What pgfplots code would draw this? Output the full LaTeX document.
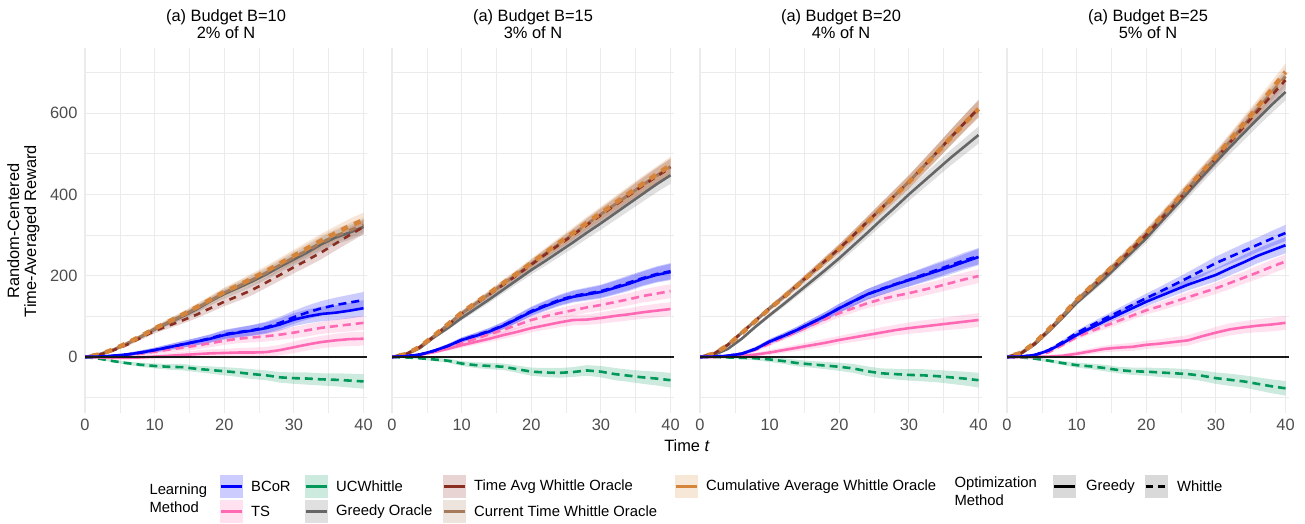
\documentclass[border=0pt]{standalone}
\usepackage{fontspec}
\setmainfont{Liberation Sans}
\usepackage{pgfplots}
\usepackage{pgfplotstable}
\pgfplotsset{compat=1.18}
\usepgfplotslibrary{fillbetween}

\definecolor{bcor}{HTML}{0000FF}
\definecolor{tsc}{HTML}{FF69B4}
\definecolor{ucw}{HTML}{00995A}
\definecolor{gor}{HTML}{666666}
\definecolor{tao}{HTML}{8B2E22}
\definecolor{cto}{HTML}{A67B5B}
\definecolor{cao}{HTML}{D6843A}
\definecolor{gridc}{HTML}{EBEBEB}
\definecolor{tickc}{HTML}{4D4D4D}
\definecolor{keyg}{HTML}{D9D9D9}

\newcommand{\tfont}{\fontsize{16.4bp}{17bp}\selectfont}
\newcommand{\lfont}{\fontsize{14.8bp}{18bp}\selectfont}

% t go ct ta ca bg bw tg tw uc eo eb et eu
\pgfplotstableread{
t go ct ta ca bg bw tg tw uc eo eb et eu
0 0 0 0 0 0 0 0 0 0 0 0 0 0
2 6 6 5 6 1 1 -1 1 -4 2 2 2 2
4 17 17 16 18 3 3 -2 2 -10 3 3 3 3
6 32 33 30 34 6 6 -2 4 -15 4 4 4 4
8 49 50 47 51 11 11 -1 8 -19 5 5 5 5
10 68 69 64 70 17 17 1 13 -22 6 6 6 6
12 84 86 77 87 24 24 3 18 -24 7 7 7 7
14 100 102 90 104 31 31 5 23 -25 8 8 8 8
16 117 120 104 122 38 38 7 28 -29 9 9 9 8
18 137 139 120 141 45 46 9 34 -32 10 10 10 9
20 155 158 136 160 54 56 10 40 -35 11 11 10 10
22 170 174 150 176 60 61 11 45 -38 12 12 11 11
24 186 190 165 193 65 66 11 48 -42 13 13 12 12
26 203 207 183 211 71 73 12 51 -45 13 14 13 12
28 222 226 202 230 80 84 17 55 -50 14 15 13 13
30 240 245 221 249 92 98 24 60 -52 15 16 14 14
32 258 263 239 268 100 110 31 66 -53 16 17 15 15
34 278 282 258 287 106 120 37 72 -55 17 18 15 15
36 294 298 279 305 109 128 41 76 -56 17 18 16 16
38 306 311 300 322 114 134 44 80 -58 18 19 17 17
40 320 325 320 337 120 140 45 84 -60 18 20 17 18
}\tA

\pgfplotstableread{
t go ct ta ca bg bw tg tw uc eo eb et eu
0 0 0 0 0 0 0 0 0 0 0 0 0 0
2 6 7 7 7 2 2 2 2 -1 2 2 2 2
4 22 25 24 25 6 6 5 6 -3 3 3 3 3
6 48 51 50 52 15 15 12 13 -6 4 4 4 4
8 71 79 78 80 27 27 20 23 -9 5 5 5 5
10 96 107 106 109 42 42 29 34 -16 6 6 6 6
12 119 131 130 133 52 53 37 45 -20 7 7 7 7
14 142 155 154 157 63 64 45 56 -22 8 8 8 8
16 166 180 178 182 77 78 54 67 -24 9 9 9 8
18 190 204 202 206 94 95 62 79 -30 10 10 10 9
20 214 229 227 231 111 113 71 91 -36 11 11 10 10
22 236 254 252 256 125 127 78 100 -38 12 12 11 11
24 259 278 276 281 138 140 85 108 -39 13 13 12 12
26 282 302 300 305 148 150 91 115 -37 14 14 13 12
28 306 327 325 330 154 156 92 122 -33 15 15 13 13
30 329 351 349 354 160 162 96 128 -36 16 16 14 14
32 353 375 373 378 170 172 101 135 -42 17 17 15 15
34 377 399 397 402 180 183 105 142 -46 18 18 15 15
36 401 423 421 426 192 194 110 150 -50 19 18 16 16
38 425 446 444 449 202 204 114 156 -53 20 19 17 17
40 447 468 466 472 209 211 118 162 -57 21 20 17 18
}\tB

\pgfplotstableread{
t go ct ta ca bg bw tg tw uc eo eb et eu
0 0 0 0 0 0 0 0 0 0 0 0 0 0
2 5 8 8 8 1 1 0 1 0 2 2 2 2
4 20 30 30 29 3 3 1 3 -1 3 3 3 3
6 45 60 60 59 8 8 3 8 -2 4 4 4 4
8 75 90 90 89 20 20 6 18 -3 5 5 5 5
10 103 120 120 119 38 38 11 33 -6 6 6 6 6
12 130 148 148 147 52 52 17 48 -10 7 7 7 7
14 158 177 177 176 67 67 23 63 -15 8 8 8 8
16 186 207 207 206 84 84 29 78 -18 9 9 9 8
18 214 237 237 236 101 101 35 93 -21 10 10 10 9
20 243 267 267 266 120 120 42 108 -24 11 11 10 10
22 274 299 299 298 137 137 48 120 -28 12 12 11 11
24 305 332 332 331 154 154 54 132 -35 13 13 12 12
26 337 365 365 364 166 167 60 142 -40 14 14 13 12
28 368 398 398 397 178 179 66 150 -42 15 15 13 13
30 400 431 431 430 189 190 71 157 -44 16 16 14 14
32 430 467 467 466 200 202 75 165 -45 17 17 15 15
34 460 503 503 502 211 214 79 173 -47 18 18 15 15
36 490 540 540 539 222 226 83 182 -50 19 18 16 16
38 518 576 576 575 234 238 87 191 -53 20 19 17 17
40 546 610 612 610 246 248 91 199 -57 21 20 17 18
}\tC

\pgfplotstableread{
t go ct ta ca bg bw tg tw uc eo eb et eu
0 0 0 0 0 0 0 0 0 0 0 0 0 0
2 8 10 9 10 1 1 0 0 -1 2 2 2 2
4 31 34 33 35 5 5 0 3 -4 3 3 3 3
6 63 67 66 68 16 17 1 12 -9 4 4 4 4
8 97 102 100 103 34 37 3 30 -15 5 5 5 5
10 133 139 136 140 54 59 8 49 -20 6 6 6 6
12 163 171 168 172 71 77 14 63 -23 7 7 7 7
14 193 203 200 204 88 94 20 76 -27 8 8 8 8
16 226 235 232 236 104 111 23 89 -32 9 9 9 8
18 259 268 266 270 120 128 25 102 -35 10 10 10 9
20 292 303 300 305 136 145 30 115 -36 11 11 10 10
22 330 340 337 342 150 161 33 125 -38 12 12 11 11
24 367 377 374 379 164 178 37 136 -40 13 13 12 12
26 405 415 412 417 178 195 41 147 -42 14 14 13 12
28 443 453 450 455 190 213 51 158 -46 15 15 13 13
30 480 490 488 492 202 231 60 169 -52 16 16 14 14
32 516 530 527 533 218 246 68 182 -56 17 17 15 15
34 551 570 566 574 233 261 73 195 -60 18 18 15 15
36 586 610 605 615 249 276 77 208 -66 19 18 16 16
38 620 650 643 658 262 291 80 222 -72 20 19 17 17
40 652 690 681 701 275 305 84 235 -77 21 20 17 18
}\tD

\newcommand{\band}[4]{%
 \addplot[draw=none, forget plot, name path=#2U] table[x=t, y expr=\thisrow{#2}+\thisrow{#3}] {#1};
 \addplot[draw=none, forget plot, name path=#2L] table[x=t, y expr=\thisrow{#2}-\thisrow{#3}] {#1};
 \addplot[fill=#4, fill opacity=0.2, draw=none, forget plot] fill between[of=#2U and #2L];
}
\newcommand{\curve}[3]{\addplot[#3, forget plot] table[x=t, y=#2] {#1};}

\pgfplotsset{
 solidln/.style={line width=2.6bp, line cap=butt},
 dashln/.style={line width=2.6bp, dash pattern=on 8bp off 5bp},
 panel/.style={
  scale only axis, width=282bp, height=365bp,
  anchor=south west,
  xmin=0, xmax=40.5, ymin=-137.7, ymax=760,
  xtick={0,10,20,30,40}, minor xtick={5,15,25,35},
  ytick={0,200,400,600}, minor ytick={-100,100,300,500,700},
  grid=both,
  major grid style={draw=gridc, line width=1.1bp},
  minor grid style={draw=gridc, line width=0.55bp},
  axis line style={draw=none},
  tick style={draw=none},
  major tick length=0pt, minor tick length=0pt,
  tick label style={font=\tfont, text=tickc},
  /pgf/number format/assume math mode=true,
  xticklabel style={yshift=-3bp},
  yticklabel style={xshift=-4bp},
 }
}

\newcommand{\drawpanel}[3]{%
\begin{axis}[panel, at={(#2bp,-413bp)}, #3]
 \band{#1}{uc}{eu}{ucw}
 \band{#1}{go}{eo}{gor}
 \band{#1}{ct}{eo}{cto}
 \band{#1}{ta}{eo}{tao}
 \band{#1}{ca}{eo}{cao}
 \band{#1}{tg}{et}{tsc}
 \band{#1}{tw}{et}{tsc}
 \band{#1}{bg}{eb}{bcor}
 \band{#1}{bw}{eb}{bcor}
 \curve{#1}{go}{gor, solidln}
 \curve{#1}{ct}{cto, line width=3bp, dash pattern=on 7bp off 7bp}
 \curve{#1}{ta}{tao, line width=2.6bp, dash pattern=on 7bp off 6bp}
 \curve{#1}{ca}{cao, line width=4.5bp, dash pattern=on 7bp off 7bp, dash phase=7bp}
 \curve{#1}{uc}{ucw, dashln}
 \curve{#1}{tg}{tsc, solidln}
 \curve{#1}{tw}{tsc, dashln}
 \curve{#1}{bg}{bcor, solidln}
 \curve{#1}{bw}{bcor, dashln}
 \addplot[black!90, line width=1.8bp, forget plot] coordinates {(0,0) (40.5,0)};
\end{axis}}

\newcommand{\lkey}[4]{%
 \fill[#3!20] (#1bp,-#2bp+11.5bp) rectangle (#1bp+23bp,-#2bp-11.5bp);
 \draw[#3, line width=2.8bp] (#1bp+1bp,-#2bp) -- (#1bp+22bp,-#2bp);
 \node[font=\lfont, anchor=west, inner sep=0pt] at (#1bp+31bp,-#2bp) {#4};}

\begin{document}
\begin{tikzpicture}

\drawpanel{\tA}{85}{}
\drawpanel{\tB}{392}{yticklabels={}}
\drawpanel{\tC}{700}{yticklabels={}}
\drawpanel{\tD}{1007}{yticklabels={}}

% panel titles
\node[font=\tfont, align=center] at (226bp,-24.5bp) {(a) Budget B=10\\2\% of N};
\node[font=\tfont, align=center] at (533bp,-24.5bp) {(a) Budget B=15\\3\% of N};
\node[font=\tfont, align=center] at (841bp,-24.5bp) {(a) Budget B=20\\4\% of N};
\node[font=\tfont, align=center] at (1148bp,-24.5bp) {(a) Budget B=25\\5\% of N};

% axis titles
\node[font=\tfont, align=center, rotate=90] at (23.5bp,-231bp) {Random-Centered\\Time-Averaged Reward};
\node[font=\tfont] at (687bp,-446bp) {Time \textit{t}};

% legend: Learning Method
\node[font=\lfont, align=left, anchor=west] at (146bp,-498bp) {Learning\\Method};
\lkey{220}{486.5}{bcor}{BCoR}
\lkey{220}{511.5}{tsc}{TS}
\lkey{305}{486.5}{ucw}{UCWhittle}
\lkey{305}{511.5}{gor}{Greedy Oracle}
\lkey{443}{486.5}{tao}{Time Avg Whittle Oracle}
\lkey{443}{511.5}{cto}{Current Time Whittle Oracle}
\lkey{675}{486.5}{cao}{Cumulative Average Whittle Oracle}

% legend: Optimization Method
\node[font=\lfont, align=left, anchor=west] at (951bp,-491bp) {Optimization\\Method};
\fill[keyg] (1053bp,-475bp) rectangle (1076bp,-498bp);
\draw[black, line width=2.8bp] (1054bp,-486.5bp) -- (1075bp,-486.5bp);
\node[font=\lfont, anchor=west, inner sep=0pt] at (1086bp,-486.5bp) {Greedy};
\fill[keyg] (1145bp,-475bp) rectangle (1168bp,-498bp);
\draw[black, line width=2.8bp, dash pattern=on 7bp off 5bp] (1146bp,-486.5bp) -- (1167bp,-486.5bp);
\node[font=\lfont, anchor=west, inner sep=0pt] at (1177bp,-486.5bp) {Whittle};

\pgfresetboundingbox
\path[use as bounding box] (0,0) rectangle (1305bp,-524bp);
\end{tikzpicture}
\end{document}
